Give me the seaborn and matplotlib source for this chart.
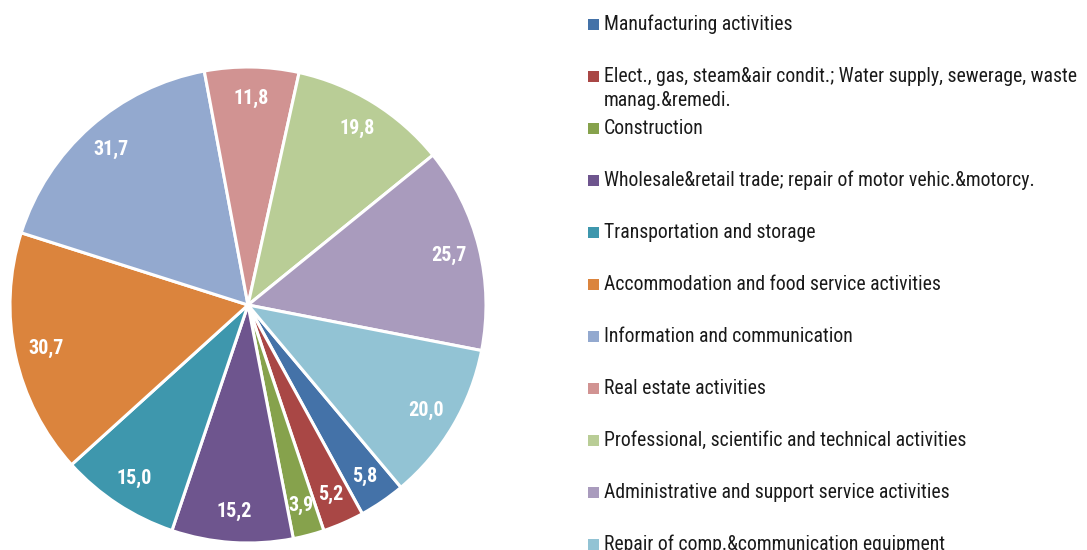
import matplotlib
matplotlib.use("Agg")
import matplotlib.pyplot as plt
import seaborn as sns
from matplotlib.patches import Rectangle
import numpy as np

# data
sectors = [
    "Manufacturing activities",
    "Elect., gas, steam&air condit.; Water supply, sewerage, waste\nmanag.&remedi.",
    "Construction",
    "Wholesale&retail trade; repair of motor vehic.&motorcy.",
    "Transportation and storage",
    "Accommodation and food service activities",
    "Information and communication",
    "Real estate activities",
    "Professional, scientific and technical activities",
    "Administrative and support service activities",
    "Repair of comp.&communication equipment",
]
values = [5.8, 5.2, 3.9, 15.2, 15.0, 30.7, 31.7, 11.8, 19.8, 25.7, 20.0]
colors = ["#4472A8", "#A94745", "#86A24C", "#6E558E", "#3E97AD", "#DB843D",
          "#93A9CF", "#D19392", "#B9CD96", "#A99BBD", "#92C3D4"]

sns.set_theme(style="white")
plt.rcParams["font.family"] = ["Roboto Condensed", "Liberation Sans", "DejaVu Sans"]

W, H = 1087, 550
fig = plt.figure(figsize=(W / 100, H / 100), dpi=100)

# pie axes: centre at (248, 305) px, radius 238 px
cx, cy, r = 248, 305, 238
ax = fig.add_axes([(cx - r) / W, (H - cy - r) / H, 2 * r / W, 2 * r / H])
wedges, _ = ax.pie(values, colors=sns.color_palette(colors), startangle=-50,
                   counterclock=False,
                   wedgeprops=dict(edgecolor="white", linewidth=2.2))
ax.set_xlim(-1, 1)
ax.set_ylim(-1, 1)
ax.set_aspect("equal")
ax.axis("off")

for w, v in zip(wedges, values):
    ang = np.deg2rad((w.theta1 + w.theta2) / 2)
    d = 0.87
    ax.text(d * np.cos(ang), d * np.sin(ang), f"{v:.1f}".replace(".", ","),
            ha="center", va="center", color="white", fontsize=14.5,
            fontweight="bold")

# legend, one row every 52 px
lx, ly0, step, sq = 588, 24.5, 52, 11
for i, (name, c) in enumerate(zip(sectors, colors)):
    y = ly0 + i * step
    fig.patches.append(Rectangle((lx / W, (H - y - sq / 2) / H), sq / W, sq / H,
                                 transform=fig.transFigure, facecolor=c,
                                 edgecolor="none"))
    lines = name.split("\n")
    for k, line in enumerate(lines):
        fig.text((lx + 16) / W, (H - y - 24 * k) / H, line, ha="left",
                 va="center", fontsize=14.2, color="#1a1a1a")

fig.savefig("out.png", dpi=100)
